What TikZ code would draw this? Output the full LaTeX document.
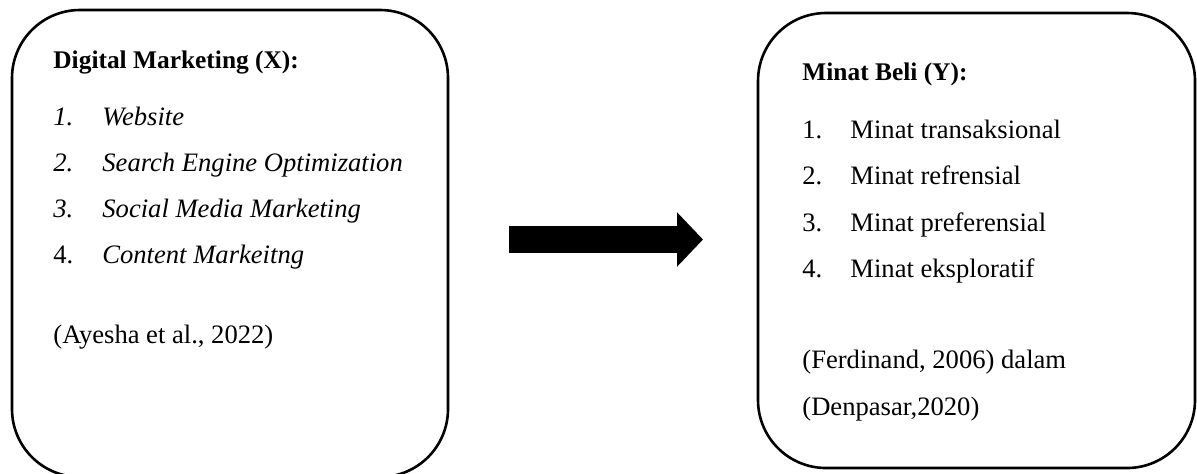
\documentclass[tikz,border=0pt]{standalone}
\usepackage{fontspec}
\setmainfont{Liberation Serif}
\usetikzlibrary{arrows.meta}

\tikzset{
  box/.style = {shape = rectangle, draw = black, line width = 1.3pt, rounded corners = 34pt},
  txt/.style = {anchor = base west, inner sep = 0pt, font = \fontsize{13.3}{16}\selectfont},
  ttl/.style = {txt, font = \fontsize{12.7}{15}\selectfont\bfseries},
}

\begin{document}
\begin{tikzpicture}[x = 0.5pt, y = -0.5pt]
        \useasboundingbox (0, 0) rectangle (1197, 473);
        \clip (0, 0) rectangle (1197, 473);

        % ------------------------------------------------------------------------
        % Digital Marketing (X)
        \node[box, minimum width = 218pt, minimum height = 233.5pt] at (230, 243.5) (dm) {};

        \node[ttl] at (53, 68) (dmtitle) {Digital Marketing (X):};

        \node[txt] at ( 53, 125) (dmnone)   {\itshape 1.};
        \node[txt] at (102, 125) (dmone)    {\itshape Website};
        \node[txt] at ( 53, 171) (dmntwo)   {\itshape 2.};
        \node[txt] at (102, 171) (dmtwo)    {\itshape Search Engine Optimization};
        \node[txt] at ( 53, 217) (dmnthree) {\itshape 3.};
        \node[txt] at (102, 217) (dmthree)  {\itshape Social Media Marketing};
        \node[txt] at ( 53, 263) (dmnfour)  {4.};
        \node[txt] at (102, 263) (dmfour)   {\itshape Content Markeitng};

        \node[txt] at (53, 343) (dmsrc) {(Ayesha et al., 2022)};

        % ------------------------------------------------------------------------
        % Minat Beli (Y)
        \node[box, minimum width = 218.5pt, minimum height = 227.5pt] at (976.5, 240.5) (mb) {};

        \node[ttl] at (802, 80) (mbtitle) {Minat Beli (Y):};

        \node[txt] at (802, 138) (mbnone)   {1.};
        \node[txt] at (850, 138) (mbone)    {Minat transaksional};
        \node[txt] at (802, 184) (mbntwo)   {2.};
        \node[txt] at (850, 184) (mbtwo)    {Minat refrensial};
        \node[txt] at (802, 231) (mbnthree) {3.};
        \node[txt] at (850, 231) (mbthree)  {Minat preferensial};
        \node[txt] at (802, 277) (mbnfour)  {4.};
        \node[txt] at (850, 277) (mbfour)   {Minat eksploratif};

        \node[txt] at (802, 368) (mbsrc)  {(Ferdinand, 2006) dalam};
        \node[txt] at (802, 415) (mbsrcb) {(Denpasar,2020)};

        % ------------------------------------------------------------------------
        % Arrow
        \coordinate (tail) at (509, 239.5);
        \coordinate (tip)  at (703, 239.5);

        \draw[line width = 13.5pt, -{Triangle[length = 13pt, width = 26.5pt]}]
          (tail) -- (tip)
        ;
      \end{tikzpicture}
\end{document}
